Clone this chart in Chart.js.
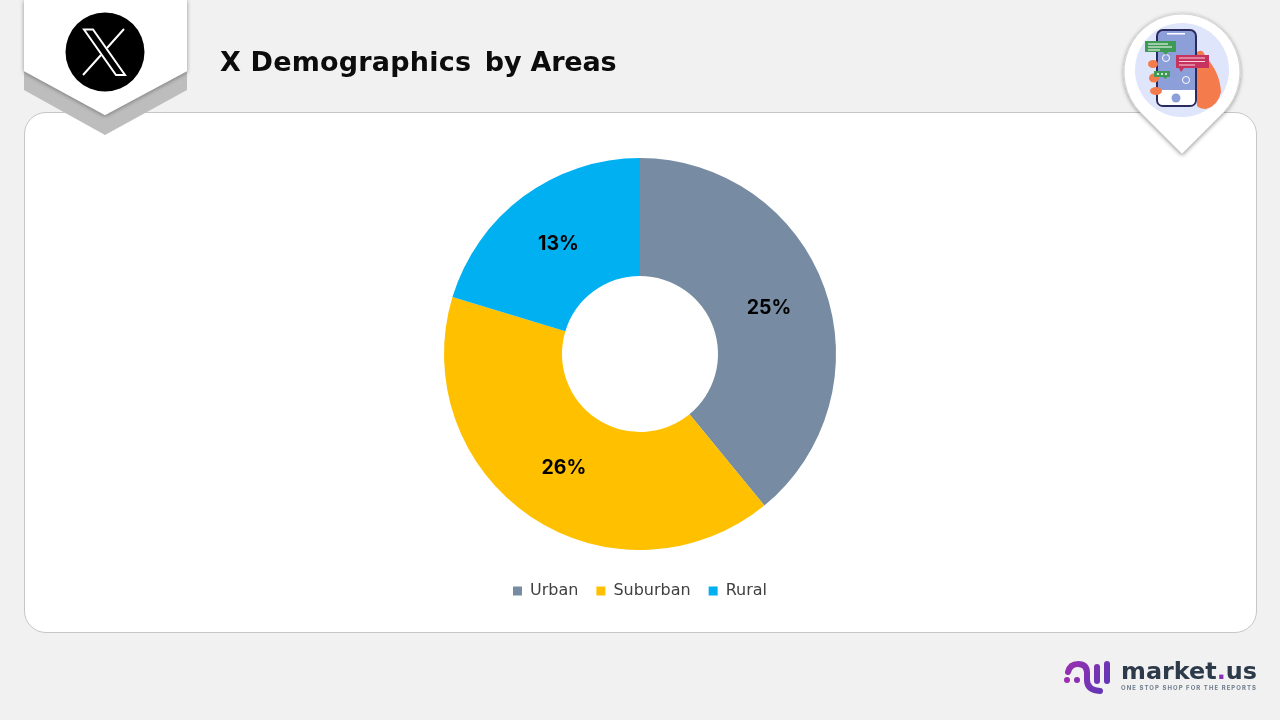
<!DOCTYPE html>
<html>
<head>
<meta charset="utf-8">
<title>X Demographics by Areas</title>
<script src="https://cdn.jsdelivr.net/npm/chart.js@4"></script>
<style>
  html, body { margin: 0; padding: 0; }
  body { width: 1280px; height: 720px; background: #f1f1f1; overflow: hidden; position: relative; font-family: "DejaVu Sans", sans-serif; }
  .card { position: absolute; left: 24px; top: 112px; width: 1231px; height: 519px; background: #fff; border: 1px solid #c6c6c6; border-radius: 22px; }
  #areasChart { position: absolute; left: 0; top: 0; }
  .art { position: absolute; left: 0; top: 0; }
  h1 { position: absolute; left: 220px; top: 44px; margin: 0; font-size: 27px; line-height: 36px; font-weight: 700; color: #0c0c0c; white-space: pre; letter-spacing: 0.2px; }
  h1 span { margin-left: 4px; letter-spacing: -0.2px; }
</style>
</head>
<body>
<div class="card"></div>
<canvas id="areasChart" width="1280" height="720"></canvas>

<svg class="art" width="1280" height="720" viewBox="0 0 1280 720">
  <defs>
    <filter id="soft" x="-20%" y="-20%" width="140%" height="140%">
      <feDropShadow dx="0" dy="1" stdDeviation="2" flood-color="#000" flood-opacity="0.4"/>
    </filter>
    <linearGradient id="brand" gradientUnits="userSpaceOnUse" x1="1064" y1="662" x2="1110" y2="694">
      <stop offset="0" stop-color="#9a2fb0"/>
      <stop offset="1" stop-color="#5b37b5"/>
    </linearGradient>
  </defs>

  <!-- X badge -->
  <polygon points="24,71 24,90 105,135 187,90 187,71 105,115" fill="#bdbdbd"/>
  <polygon points="24,0 187,0 187,71 105,115 24,71" fill="#fff" filter="url(#soft)"/>
  <circle cx="105" cy="52" r="39.5" fill="#000"/>
  <path d="M84,29.500 L93,29.500 L125,75 L116,75 Z" fill="none" stroke="#fff" stroke-width="2"/>
  <path d="M124,29 L107,48 M101,55 L83,75" fill="none" stroke="#fff" stroke-width="2"/>

  <!-- phone pin -->
  <path d="M1182,14 A58,58 0 0 1 1223,113 L1182,154 L1141,113 A58,58 0 0 1 1182,14 Z" fill="#fff" stroke="#d4d4d4" stroke-width="1" filter="url(#soft)"/>
  <circle cx="1182" cy="70" r="47" fill="#dfe5fa"/>
  <path d="M1197,52 Q1203,48 1205,56 Q1220,72 1221,92 Q1218,106 1206,109 Q1200,109 1197,106 Z" fill="#f47c4c"/>
  <rect x="1157" y="30" width="39" height="76" rx="6" fill="#8c9fd8" stroke="#2b2a5e" stroke-width="2"/>
  <path d="M1158,90 H1195 V100 Q1195,105 1190,105 H1163 Q1158,105 1158,100 Z" fill="#fff"/>
  <circle cx="1176" cy="98" r="4.500" fill="#8c9fd8"/>
  <rect x="1167" y="33" width="18" height="1.500" fill="#fff"/>
  <circle cx="1166" cy="58" r="3.500" fill="none" stroke="#fff" stroke-width="1"/>
  <circle cx="1186" cy="80" r="3.500" fill="none" stroke="#fff" stroke-width="1"/>
  <ellipse cx="1153" cy="64" rx="5" ry="4" fill="#f47c4c"/>
  <ellipse cx="1154" cy="78" rx="5" ry="4.500" fill="#f47c4c"/>
  <ellipse cx="1156" cy="91" rx="6" ry="4" fill="#f47c4c"/>
  <path d="M1145,41 H1176 V52 H1168 L1166,55 L1163,52 H1145 Z" fill="#3f9a55"/>
  <path d="M1148,44 H1168 M1148,47 H1172 M1148,50 H1160" stroke="#fff" stroke-width="1"/>
  <path d="M1176,55 H1209 V68 H1184 L1181,72 L1179,68 H1176 Z" fill="#c8325f"/>
  <path d="M1179,58 H1205 M1179,61.500 H1205 M1179,65 H1195" stroke="#f8d4de" stroke-width="1.200"/>
  <path d="M1154,71 H1170 V77 H1167 L1166,79 L1163,77 H1154 Z" fill="#3f9a55"/>
  <circle cx="1158" cy="74" r="1" fill="#fff"/>
  <circle cx="1162" cy="74" r="1" fill="#fff"/>
  <circle cx="1166" cy="74" r="1" fill="#fff"/>

  <!-- market.us mark -->
  <g fill="none" stroke="url(#brand)" stroke-width="6" stroke-linecap="round">
    <path d="M1068,672 Q1070,664 1078,664 Q1087,664 1087,673 V680 Q1087,690 1100,691"/>
    <path d="M1097,667 V681"/>
    <path d="M1107,664 V681"/>
  </g>
  <circle cx="1067" cy="680" r="3" fill="#9a2fb0"/>
  <circle cx="1077" cy="680" r="3" fill="#8a30b0"/>
  <text x="1121" y="679" font-family="DejaVu Sans, sans-serif" font-size="23" font-weight="700" fill="#2c3a49" textLength="136" lengthAdjust="spacingAndGlyphs">market<tspan fill="#8a2fb5">.</tspan>us</text>
  <text x="1121" y="690" font-family="Inter, sans-serif" font-size="6" font-weight="700" fill="#6d7b8c" textLength="135" lengthAdjust="spacing">ONE STOP SHOP FOR THE REPORTS</text>
</svg>

<h1>X Demographics <span>by Areas</span></h1>

<script>
const categories = ["Urban", "Suburban", "Rural"];
const shares = [25, 26, 13];
const sliceColors = ["#778ba2", "#ffc000", "#00b0f0"];

// prints the value in the middle of each slice
const sliceLabels = {
  id: "sliceLabels",
  afterDatasetsDraw(chart) {
    const ctx = chart.ctx;
    ctx.save();
    ctx.font = "700 19.5px Inter";
    ctx.fillStyle = "#000";
    ctx.textAlign = "center";
    ctx.textBaseline = "middle";
    chart.getDatasetMeta(0).data.forEach((arc, i) => {
      const p = arc.getCenterPoint();
      ctx.fillText(shares[i] + "%", p.x, p.y);
    });
    ctx.restore();
  }
};

new Chart(document.getElementById("areasChart"), {
  type: "doughnut",
  data: {
    labels: categories,
    datasets: [{
      data: shares,
      backgroundColor: sliceColors,
      borderWidth: 0,
      radius: 196,
      cutout: "39.8%"
    }]
  },
  options: {
    responsive: false,
    animation: false,
    layout: { padding: { top: 143, bottom: 111 } },
    plugins: {
      tooltip: { enabled: false },
      legend: {
        position: "bottom",
        labels: {
          boxWidth: 9,
          boxHeight: 9,
          padding: 18,
          color: "#404040",
          font: { family: "DejaVu Sans", size: 16 }
        }
      }
    }
  },
  plugins: [sliceLabels]
});
</script>
</body>
</html>
